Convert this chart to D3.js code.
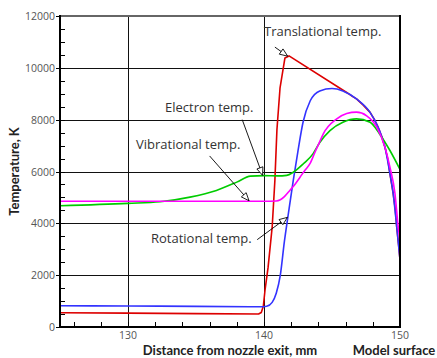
<!DOCTYPE html>
<html>
<head>
<meta charset="utf-8">
<script src="https://cdn.jsdelivr.net/npm/d3@7"></script>
<style>
  body { margin: 0; background: #fff; }
  svg { display: block; }
</style>
</head>
<body>
<script>
  const width = 437, height = 358;

  // Data: [distance mm, temperature K]
  const translational = [
    [125, 550], [130, 535], [135, 515], [139.6, 500], [139.8, 560], [139.95, 800],
    [140.07, 1400], [140.3, 2300], [140.6, 3850], [140.8, 5650], [140.95, 7600],
    [141.18, 9230], [141.54, 10380], [141.84, 10460], [146.08, 9050], [146.5, 8900],
    [146.8, 8800], [147.3, 8560], [147.8, 8280], [148.1, 8020], [148.4, 7700],
    [148.65, 7350], [148.9, 6930], [149.1, 6480], [149.26, 5920], [149.5, 5150],
    [149.65, 4550], [149.76, 3860], [149.9, 3150], [150, 2600]
  ];
  const rotational = [
    [125, 820], [130, 810], [135, 795], [139.7, 780], [140.2, 800], [140.6, 950],
    [140.9, 1300], [141.2, 2000], [141.5, 3300], [141.8, 4400], [142.15, 5650],
    [142.5, 6800], [142.87, 7900], [143.4, 8730], [144.1, 9110], [145.0, 9200],
    [145.8, 9110], [146.8, 8800], [147.8, 8280], [148.4, 7700], [148.9, 6930],
    [149.26, 5920], [149.5, 5150], [149.76, 3860], [150, 2600]
  ];
  const electron = [
    [125, 4680], [130, 4770], [132.35, 4830], [134.56, 5010], [136.5, 5270],
    [138, 5590], [139, 5820], [140, 5840], [141, 5830], [141.67, 5850],
    [142.15, 5970], [142.9, 6300], [143.6, 6680], [144.1, 7120], [144.85, 7580],
    [145.8, 7900], [146.8, 8030], [147.8, 7900], [148.5, 7450], [149.26, 6810], [150, 6080]
  ];
  const vibrational = [
    [125, 4850], [130, 4850], [135, 4850], [140, 4850], [140.9, 4860], [141.2, 4910],
    [141.5, 5030], [141.9, 5270], [142.3, 5520], [142.65, 5780], [143.0, 6040],
    [143.38, 6300], [143.75, 6750], [144.1, 7150], [144.36, 7450], [145.35, 8030],
    [146.08, 8240], [146.8, 8290], [147.55, 8150], [148.3, 7700], [148.9, 6930],
    [149.26, 6170], [149.63, 5150], [149.87, 3860], [150, 3350]
  ];

  const yTicks = [0, 2000, 4000, 6000, 8000, 10000, 12000];
  const xTicks = [130, 140, 150];

  // translational has a sharp peak and a straight fall, so no smoothing there
  const series = [
    { name: "Translational", values: translational, color: "#dd0000", curve: d3.curveLinear },
    { name: "Rotational", values: rotational, color: "#3333ff", curve: d3.curveMonotoneX },
    { name: "Electron", values: electron, color: "#00cc00", curve: d3.curveMonotoneX },
    { name: "Vibrational", values: vibrational, color: "#ff00ff", curve: d3.curveMonotoneX }
  ];

  // Annotations: label text, label position, arrow start & end in data units
  const notes = [
    { text: "Translational temp.", tx: 264, ty: 36, from: [140.8, 10800], to: [141.74, 10450] },
    { text: "Electron temp.", tx: 165, ty: 112, from: [138.4, 8000], to: [139.9, 5850] },
    { text: "Vibrational temp.", tx: 136, ty: 149, from: [136.0, 6600], to: [138.9, 4870] },
    { text: "Rotational temp.", tx: 151, ty: 243, from: [139.5, 3370], to: [141.72, 4230] }
  ];

  const margin = { left: 60, right: 37, top: 16, bottom: 31 };
  const x = d3.scaleLinear().domain([125, 150]).range([margin.left, width - margin.right]);
  const y = d3.scaleLinear().domain([0, 12000]).range([height - margin.bottom, margin.top]);

  const svg = d3.select("body").append("svg")
    .attr("width", width)
    .attr("height", height);

  const defs = svg.append("defs");
  defs.append("marker")
    .attr("id", "arrow")
    .attr("viewBox", "0 0 10 10")
    .attr("refX", 10)
    .attr("refY", 5)
    .attr("markerWidth", 10)
    .attr("markerHeight", 8)
    .attr("markerUnits", "userSpaceOnUse")
    .attr("orient", "auto")
    .append("path")
    .attr("d", "M0,1 L10,5 L0,9 Z")
    .attr("fill", "#fff")
    .attr("stroke", "#000")
    .attr("stroke-width", 1);

  const tickFont = "'Open Sans', sans-serif";
  const titleFont = "Lato, 'Open Sans', sans-serif";

  // Grid lines
  svg.append("g")
    .selectAll("line")
    .data(yTicks.slice(1, -1))
    .join("line")
    .attr("x1", x(125)).attr("x2", x(150))
    .attr("y1", d => Math.round(y(d)) + 0.5).attr("y2", d => Math.round(y(d)) + 0.5)
    .attr("stroke", "#111")
    .attr("stroke-width", 1);

  svg.append("g")
    .selectAll("line")
    .data([130, 140])
    .join("line")
    .attr("x1", d => Math.round(x(d)) + 0.5).attr("x2", d => Math.round(x(d)) + 0.5)
    .attr("y1", y(12000)).attr("y2", y(0))
    .attr("stroke", "#111")
    .attr("stroke-width", 1);

  // Minor ticks on the left axis, inside the plot
  svg.append("g")
    .selectAll("line")
    .data(d3.range(0, 12001, 500))
    .join("line")
    .attr("x1", x(125)).attr("x2", x(125) + 5)
    .attr("y1", d => Math.round(y(d)) + 0.5).attr("y2", d => Math.round(y(d)) + 0.5)
    .attr("stroke", "#000");

  // Major ticks poke out left of axis
  svg.append("g")
    .selectAll("line")
    .data(yTicks)
    .join("line")
    .attr("x1", x(125) - 4).attr("x2", x(125))
    .attr("y1", d => Math.round(y(d)) + 0.5).attr("y2", d => Math.round(y(d)) + 0.5)
    .attr("stroke", "#000");

  // Minor ticks on the bottom axis
  svg.append("g")
    .selectAll("line")
    .data(d3.range(126, 150, 2))
    .join("line")
    .attr("x1", d => Math.round(x(d)) + 0.5).attr("x2", d => Math.round(x(d)) + 0.5)
    .attr("y1", y(0)).attr("y2", y(0) - 5)
    .attr("stroke", "#000");

  // Curves
  const plot = svg.append("g");
  plot.append("clipPath").attr("id", "clip")
    .append("rect")
    .attr("x", x(125)).attr("y", y(12000))
    .attr("width", x(150) - x(125)).attr("height", y(0) - y(12000));

  plot.append("g")
    .attr("clip-path", "url(#clip)")
    .selectAll("path")
    .data(series)
    .join("path")
    .attr("d", d => d3.line()
      .x(p => x(p[0]))
      .y(p => y(p[1]))
      .curve(d.curve)(d.values))
    .attr("fill", "none")
    .attr("stroke", d => d.color)
    .attr("stroke-width", 1.6)
    .attr("stroke-linejoin", "round");

  // Frame
  svg.append("line")
    .attr("x1", x(125)).attr("x2", x(150))
    .attr("y1", y(12000)).attr("y2", y(12000))
    .attr("stroke", "#666").attr("stroke-width", 2);
  svg.append("line")
    .attr("x1", x(150)).attr("x2", x(150))
    .attr("y1", y(12000) - 1).attr("y2", y(0))
    .attr("stroke", "#000").attr("stroke-width", 2);
  svg.append("line")
    .attr("x1", x(125)).attr("x2", x(125))
    .attr("y1", y(12000) - 1).attr("y2", y(0) + 1)
    .attr("stroke", "#000").attr("stroke-width", 2);
  svg.append("line")
    .attr("x1", x(125) - 1).attr("x2", x(150) + 1)
    .attr("y1", y(0)).attr("y2", y(0))
    .attr("stroke", "#000").attr("stroke-width", 2);

  // Tick labels
  svg.append("g")
    .selectAll("text")
    .data(yTicks)
    .join("text")
    .attr("x", x(125) - 5)
    .attr("y", d => y(d) + 4)
    .attr("text-anchor", "end")
    .attr("font-family", tickFont)
    .attr("font-size", "10.5px")
    .attr("fill", "#555")
    .text(d => d);

  svg.append("g")
    .selectAll("text")
    .data(xTicks)
    .join("text")
    .attr("x", d => x(d))
    .attr("y", y(0) + 12)
    .attr("text-anchor", "middle")
    .attr("font-family", tickFont)
    .attr("font-size", "10.5px")
    .attr("fill", "#555")
    .text(d => d);

  // Axis titles
  svg.append("text")
    .attr("transform", `translate(19, ${(y(0) + y(12000)) / 2}) rotate(-90)`)
    .attr("text-anchor", "middle")
    .attr("font-family", titleFont)
    .attr("font-weight", "bold")
    .attr("font-size", "13px")
    .attr("fill", "#222")
    .text("Temperature, K");

  svg.append("text")
    .attr("x", 230)
    .attr("y", 355)
    .attr("text-anchor", "middle")
    .attr("font-family", titleFont)
    .attr("font-weight", "bold")
    .attr("font-size", "13px")
    .attr("fill", "#222")
    .text("Distance from nozzle exit, mm");

  svg.append("text")
    .attr("x", 394)
    .attr("y", 355)
    .attr("text-anchor", "middle")
    .attr("font-family", titleFont)
    .attr("font-weight", "bold")
    .attr("font-size", "13px")
    .attr("fill", "#222")
    .text("Model surface");

  // Annotations with open arrowheads
  const ann = svg.append("g");
  ann.selectAll("line")
    .data(notes)
    .join("line")
    .attr("x1", d => x(d.from[0])).attr("y1", d => y(d.from[1]))
    .attr("x2", d => x(d.to[0])).attr("y2", d => y(d.to[1]))
    .attr("stroke", "#000")
    .attr("stroke-width", 0.9)
    .attr("marker-end", "url(#arrow)");

  ann.selectAll("text")
    .data(notes)
    .join("text")
    .attr("x", d => d.tx)
    .attr("y", d => d.ty)
    .attr("font-family", tickFont)
    .attr("font-size", "13px")
    .attr("fill", "#333")
    .text(d => d.text);
</script>
</body>
</html>
